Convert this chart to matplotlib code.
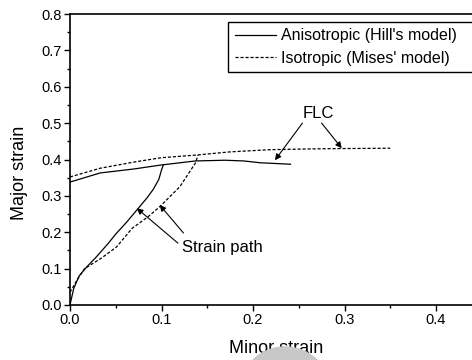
import matplotlib
matplotlib.use("Agg")
import matplotlib.pyplot as plt
from matplotlib.patches import Ellipse
from matplotlib.ticker import MultipleLocator

plt.rcParams['font.family'] = ['Liberation Sans', 'DejaVu Sans']

# forming limit curves
flc_aniso_x = [0.0, 0.033, 0.07, 0.1, 0.137, 0.169, 0.19, 0.208, 0.241]
flc_aniso_y = [0.338, 0.363, 0.374, 0.385, 0.396, 0.398, 0.396, 0.391, 0.387]
flc_iso_x = [0.0, 0.033, 0.07, 0.1, 0.137, 0.175, 0.219, 0.26, 0.295, 0.35]
flc_iso_y = [0.352, 0.376, 0.393, 0.405, 0.412, 0.421, 0.427, 0.429, 0.430, 0.431]

# strain paths
path_aniso_x = [0.0, 0.004, 0.01, 0.018, 0.028, 0.042, 0.05, 0.062, 0.073, 0.084, 0.091, 0.097, 0.1, 0.102]
path_aniso_y = [0.0, 0.045, 0.08, 0.104, 0.13, 0.17, 0.195, 0.228, 0.261, 0.294, 0.318, 0.345, 0.371, 0.385]
path_iso_x = [0.0, 0.008, 0.016, 0.035, 0.051, 0.068, 0.085, 0.098, 0.12, 0.137, 0.14]
path_iso_y = [0.035, 0.07, 0.1, 0.13, 0.16, 0.211, 0.242, 0.27, 0.325, 0.39, 0.412]

fig = plt.figure(figsize=(4.72, 3.6), dpi=100)
ax = fig.add_axes([70/472, 55/360, 0.45*915/472, 291/360])

ax.plot(flc_aniso_x, flc_aniso_y, color='black', lw=0.9, label="Anisotropic (Hill's model)")
ax.plot(flc_iso_x, flc_iso_y, color='black', lw=0.9, ls=(0, (2.5, 1.5)), label="Isotropic (Mises' model)")
ax.plot(path_aniso_x, path_aniso_y, color='black', lw=0.9)
ax.plot(path_iso_x, path_iso_y, color='black', lw=0.9, ls=(0, (2.5, 1.5)))

ax.set_xlim(0, 0.45)
ax.set_ylim(0, 0.8)
ax.xaxis.set_major_locator(MultipleLocator(0.1))
ax.xaxis.set_minor_locator(MultipleLocator(0.05))
ax.yaxis.set_major_locator(MultipleLocator(0.1))
ax.yaxis.set_minor_locator(MultipleLocator(0.05))
ax.tick_params(which='both', direction='out', width=1.0, labelsize=10.5, pad=2)
ax.tick_params(which='major', length=4)
ax.tick_params(which='minor', length=2.5)
for s in ax.spines.values():
    s.set_linewidth(1.2)

ax.set_xlabel('Minor strain', fontsize=13, labelpad=9)
ax.set_ylabel('Major strain', fontsize=13)
ax.yaxis.set_label_coords(-0.102, 0.454)

arrow = dict(arrowstyle='-|>', color='black', lw=0.8, mutation_scale=9, shrinkA=0, shrinkB=0)
ax.text(0.271, 0.527, 'FLC', fontsize=12, ha='center', va='center')
ax.annotate('', xy=(0.224, 0.398), xytext=(0.254, 0.5), arrowprops=arrow)
ax.annotate('', xy=(0.297, 0.431), xytext=(0.275, 0.5), arrowprops=arrow)

ax.text(0.122, 0.159, 'Strain path', fontsize=12, ha='left', va='center')
ax.annotate('', xy=(0.073, 0.266), xytext=(0.118, 0.17), arrowprops=arrow)
ax.annotate('', xy=(0.098, 0.275), xytext=(0.124, 0.198), arrowprops=arrow)

leg = ax.legend(loc='upper left', bbox_to_anchor=(0.384, 0.80, 0.75, 0.1725), mode='expand',
                borderaxespad=0, fontsize=11.5, handlelength=2.6, handletextpad=0.3,
                labelspacing=0.45, borderpad=0.4, fancybox=False, framealpha=1,
                edgecolor='black')
leg.get_frame().set_linewidth(1.0)

fig.patches.append(Ellipse((285/472, -33/360), 92/472, 92/360, transform=fig.transFigure,
                           color='#c8c8c8', zorder=0))

fig.savefig('out.png', dpi=100)
